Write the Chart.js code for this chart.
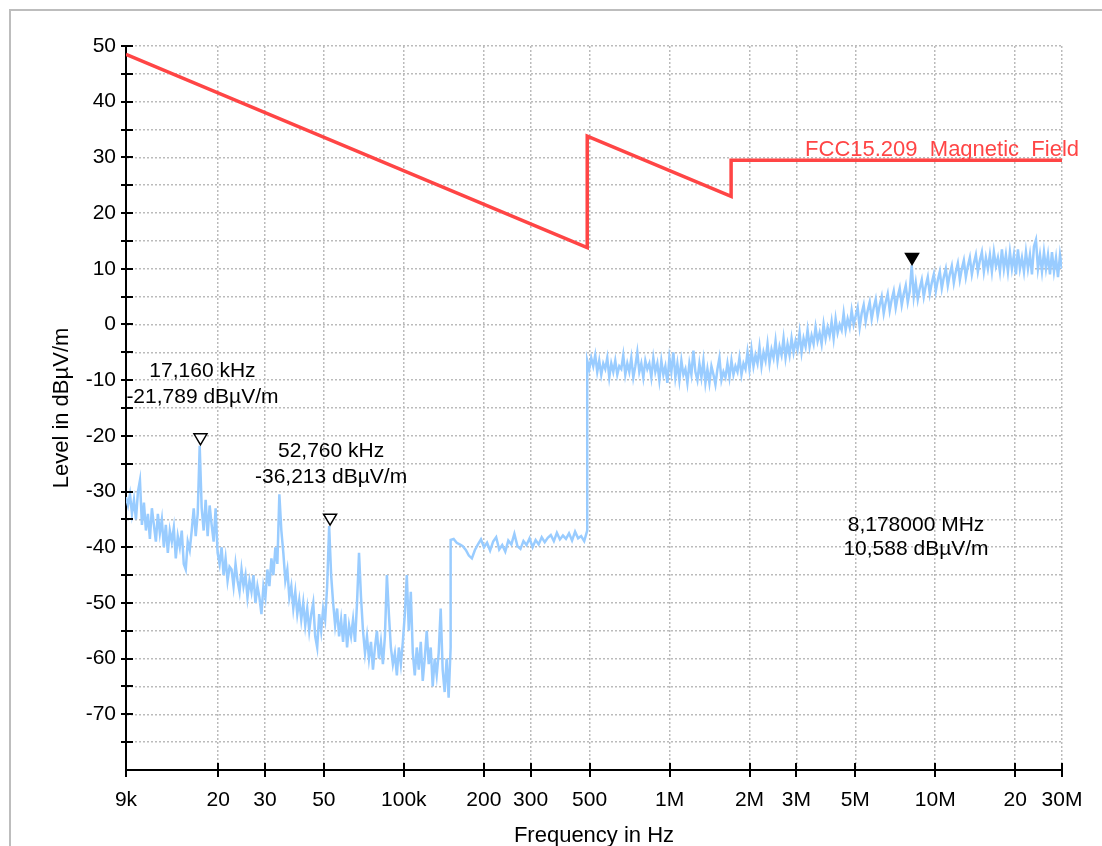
<!DOCTYPE html>
<html>
<head>
<meta charset="utf-8">
<title>FCC15.209 Magnetic Field scan</title>
<script src="https://cdn.jsdelivr.net/npm/chart.js@4.4.1/dist/chart.umd.min.js"></script>
<style>
  html, body { margin: 0; padding: 0; background: #fff; }
  canvas { display: block; }
</style>
</head>
<body>
<canvas id="scan" width="1102" height="846"></canvas>
<script>
// x axis ticks (Hz) and their labels
const xTickValues = [9e3, 2e4, 3e4, 5e4, 1e5, 2e5, 3e5, 5e5, 1e6, 2e6, 3e6, 5e6, 1e7, 2e7, 3e7];
const xTickLabels = ['9k', '20', '30', '50', '100k', '200', '300', '500', '1M', '2M', '3M', '5M', '10M', '20', '30M'];

// limit line FCC 15.209 (magnetic field, dBµV/m)
const limitFreqs = [9e3, 4.9e5, 4.9e5, 1.705e6, 1.705e6, 3e7];
const limitLevels = [48.5, 13.8, 33.8, 23.0, 29.5, 29.5];

// sweep, part 1: 9 kHz .. 150 kHz (levels)
const sweepA = { start: 9e3, stop: 1.5e5 };
const levelsA = [
  -31, -32.5, -30.5, -34, -31.5, -35, -30, -28, -36, -32,
  -37, -34, -38.5, -33, -36, -39, -34, -37.5, -35, -40,
  -36, -41, -37, -39, -36.5, -42, -38, -40, -37, -43,
  -44, -39, -40.5, -37, -33, -38, -34, -21.8, -33, -37,
  -31.5, -38, -32.5, -36, -39, -33, -41, -43, -40, -45,
  -42, -46, -43.5, -44, -47, -43, -46, -48, -44, -47,
  -45, -49, -46, -48, -45, -50, -47, -49, -52, -47,
  -49, -44, -47, -42, -45, -40, -43, -30.5, -37, -41,
  -46, -44, -49, -47, -51, -48, -52, -49.5, -53, -50,
  -54, -51, -55, -52, -50, -56, -58, -52, -55, -51,
  -53, -47, -36.2, -45, -50, -54, -51, -56, -53, -57,
  -52, -58, -54, -56, -53, -57, -50, -41, -49, -55,
  -59, -56, -60, -57, -62, -58, -55, -60, -57, -61,
  -56, -45, -52, -58, -61, -59, -63, -58, -61, -57,
  -52, -45, -55, -48, -59, -63, -58, -62, -57, -64,
  -60, -55, -61, -58, -65, -60, -63, -59, -51, -62,
  -66, -60, -67, -58
];

// sweep, part 2: 150 kHz .. 490 kHz
const sweepB = { start: 1.5e5, stop: 4.9e5 };
const levelsB = [
  -38.7, -38.5, -39.2, -39.5, -39.8, -40.5, -41.5, -42, -40.5, -39.5,
  -38.6, -40, -39.2, -40.6, -39, -38.2, -40.4, -39.6, -40.8, -38.8,
  -39.5, -37.6, -39.8, -40.3, -38.9, -39.6, -38.4, -40, -38.7, -39.5,
  -38.2, -39.1, -38.3, -37.8, -38.9, -37.4, -38.6, -37.9, -38.5, -37.5,
  -38.8, -37.2, -38.4, -38, -38.9, -37
];

// sweep, part 3: 490 kHz .. 30 MHz
const sweepC = { start: 4.9e5, stop: 3e7 };
const levelsC = [
  -6.5, -8, -6, -7.5, -5.5, -8.5, -6.5, -9, -7, -8,
  -6, -9.5, -7, -8.5, -6.5, -9, -7.5, -8, -5.5, -9,
  -7, -8.5, -6, -9.5, -7.5, -5, -8.5, -7, -9.5, -6.5,
  -8, -7, -9.5, -6, -8.5, -7, -10, -6.5, -9, -7.5,
  -10.5, -6, -8.5, -5, -9.5, -7, -10, -6.5, -9, -8,
  -10.5, -7, -9, -4.7, -8.5, -10, -7, -9.5, -6.5, -10.5,
  -8, -10.5, -7.5, -9, -10.8, -8, -6, -10, -8.5, -9.5,
  -7, -9.5, -6.5, -9, -7.5, -8.5, -6, -9, -7, -8,
  -5, -8, -4.5, -7.5, -5.5, -7, -4, -7.5, -5, -6.5,
  -3.5, -7, -4.5, -6, -3, -6.5, -4, -5.5, -2.5, -6,
  -3.5, -5.5, -2.5, -5, -3, -4.5, -1.5, -5, -2.5, -4,
  -1, -4, -2, -3.5, -0.5, -3, -1.5, -3.5, 0, -2.5,
  -0.5, -2, 0.5, -2.5, 1, -1.5, 0, -1, 2, -1,
  1, -0.5, 2.5, 0, 1.5, 3, -0.5, 2, 3.5, 0.5,
  2.5, 4, 1, 3, 4.5, 1.5, 3.5, 5, 2, 4,
  5.5, 2.5, 4.5, 6, 3, 5, 6.5, 3.5, 5.5, 7,
  4, 6, 10.6, 5, 7.5, 4.5, 6.5, 8, 5, 7,
  8.5, 5.5, 7.5, 9, 6, 8, 9.5, 6.5, 8.5, 10,
  7, 9, 10.5, 7.5, 9.5, 11, 8, 10, 11.5, 8.5,
  10.5, 12, 9, 11, 12.5, 9.5, 11.5, 13, 9.5, 12,
  10, 12.5, 9.5, 13, 10.5, 12, 9.5, 13.5, 10, 12.5,
  9.5, 13, 10, 12.5, 9, 13.5, 10, 12, 9.5, 13,
  10, 12.5, 9, 14, 15.2, 10, 12.5, 9.5, 13, 10,
  12.5, 9, 13, 9.5, 12, 8.5, 12.5, 10
];

// peak markers
const markerFreqs = [17160, 52760, 8178000];
const markerLevels = [-21.789, -36.213, 10.588];
const markerFreqText = ['17,160 kHz', '52,760 kHz', '8,178000 MHz'];
const markerLevelText = ['-21,789 dBµV/m', '-36,213 dBµV/m', '10,588 dBµV/m'];

const limitName = 'FCC15.209_Magnetic_Field';

const FONT = "'Liberation Sans', Arial, sans-serif";
const TRACE = '#99ccff';
const LIMIT = '#ff4545';

// sweep points are log-spaced between start and stop
function sweepPoints(sweep, levels) {
  const n = levels.length;
  return levels.map((lvl, i) => ({
    x: sweep.start * Math.pow(sweep.stop / sweep.start, i / (n - 1)),
    y: lvl
  }));
}

const tracePoints = [
  ...sweepPoints(sweepA, levelsA),
  ...sweepPoints(sweepB, levelsB),
  ...sweepPoints(sweepC, levelsC)
];
const limitPoints = limitFreqs.map((f, i) => ({ x: f, y: limitLevels[i] }));

const overlay = {
  id: 'overlay',
  beforeDraw(chart) {
    const ctx = chart.ctx;
    ctx.save();
    ctx.fillStyle = '#fff';
    ctx.fillRect(0, 0, chart.width, chart.height);
    ctx.strokeStyle = '#bdbdbd';
    ctx.lineWidth = 2;
    ctx.strokeRect(10, 10, chart.width + 50, chart.height + 50);
    ctx.restore();
  },
  afterDraw(chart) {
    const { ctx, chartArea, scales: { x, y } } = chart;
    ctx.save();
    ctx.strokeStyle = '#000';
    ctx.lineWidth = 2;
    ctx.beginPath();
    // crossing tick marks on both axes
    y.ticks.forEach(t => {
      if (t.value <= y.min) return;
      const py = Math.round(y.getPixelForValue(t.value));
      ctx.moveTo(chartArea.left - 5, py);
      ctx.lineTo(chartArea.left + 7, py);
    });
    x.ticks.forEach(t => {
      const px = Math.round(x.getPixelForValue(t.value));
      ctx.moveTo(px, chartArea.bottom - 7);
      ctx.lineTo(px, chartArea.bottom + 7);
    });
    ctx.stroke();

    // markers: open triangles for the first two, filled for the last
    const filled = [false, false, true];
    const textDx = [2, 1, 4];
    const textDy = [[-68, -42], [-68, -42], [267, 291]];
    ctx.font = '21px ' + FONT;
    ctx.textAlign = 'center';
    ctx.textBaseline = 'alphabetic';
    markerFreqs.forEach((f, i) => {
      const px = x.getPixelForValue(f);
      const py = y.getPixelForValue(markerLevels[i]) - 1;
      ctx.beginPath();
      ctx.moveTo(px - 6.5, py - 11);
      ctx.lineTo(px + 6.5, py - 11);
      ctx.lineTo(px, py);
      ctx.closePath();
      ctx.fillStyle = filled[i] ? '#000' : '#fff';
      ctx.fill();
      ctx.lineWidth = 1.5;
      ctx.stroke();
      ctx.fillStyle = '#000';
      ctx.fillText(markerFreqText[i], px + textDx[i], py + textDy[i][0]);
      ctx.fillText(markerLevelText[i], px + textDx[i], py + textDy[i][1]);
    });

    // limit line name
    ctx.font = '22px ' + FONT;
    ctx.fillStyle = LIMIT;
    ctx.textAlign = 'right';
    const lx = x.getPixelForValue(limitFreqs[limitFreqs.length - 1]) + 17;
    const ly = y.getPixelForValue(limitLevels[limitLevels.length - 1]) - 4;
    ctx.fillText(limitName, lx, ly);
    ctx.restore();
  }
};

new Chart(document.getElementById('scan'), {
  type: 'line',
  data: {
    datasets: [
      {
        label: limitName,
        data: limitPoints,
        borderColor: LIMIT,
        borderWidth: 3.5,
        pointRadius: 0,
        tension: 0
      },
      {
        label: 'Level',
        data: tracePoints,
        borderColor: TRACE,
        borderWidth: 2.5,
        pointRadius: 0,
        tension: 0
      }
    ]
  },
  options: {
    responsive: false,
    animation: false,
    layout: { padding: { top: 46, right: 40, left: 0, bottom: 0 } },
    plugins: {
      legend: { display: false },
      tooltip: { enabled: false }
    },
    scales: {
      x: {
        type: 'logarithmic',
        min: 9e3,
        max: 3e7,
        afterBuildTicks: s => { s.ticks = xTickValues.map(v => ({ value: v })); },
        afterFit: s => { s.height = 76; },
        ticks: {
          autoSkip: false,
          maxRotation: 0,
          padding: 18,
          color: '#000',
          font: { size: 21, family: FONT },
          callback: (v, i) => xTickLabels[i]
        },
        grid: { color: '#bbbbbb', lineWidth: 1.5, drawTicks: false },
        border: { display: true, color: '#000', width: 2, dash: [2, 2] },
        title: {
          display: true,
          text: 'Frequency in Hz',
          color: '#000',
          font: { size: 22, family: FONT },
          padding: { top: 0, bottom: -3 }
        }
      },
      y: {
        min: -80,
        max: 50,
        afterFit: s => { s.width = 126; },
        ticks: {
          stepSize: 5,
          autoSkip: false,
          padding: 10,
          color: '#000',
          font: { size: 21, family: FONT },
          callback: v => (v % 10 === 0 && v > -80) ? String(v) : ''
        },
        grid: { color: '#bbbbbb', lineWidth: 1.5, drawTicks: false },
        border: { display: true, color: '#000', width: 2, dash: [2, 2] },
        title: {
          display: true,
          text: 'Level in dBµV/m',
          color: '#000',
          font: { size: 22, family: FONT },
          padding: { top: 49, bottom: 0 }
        }
      }
    }
  },
  plugins: [overlay]
});
</script>
</body>
</html>
